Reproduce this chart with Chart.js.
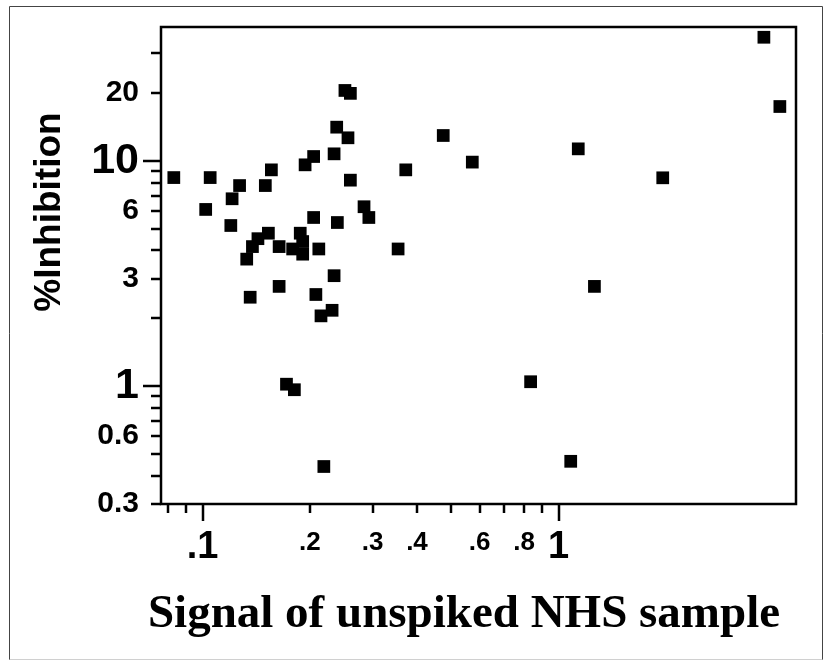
<!DOCTYPE html>
<html>
<head>
<meta charset="utf-8">
<script src="https://cdn.jsdelivr.net/npm/chart.js@4.4.1/dist/chart.umd.min.js"></script>
<style>
  html, body { margin: 0; padding: 0; background: #fff; }
  #wrap { width: 824px; height: 662px; }
</style>
</head>
<body>
<div id="wrap"><canvas id="canvas" width="824" height="662"></canvas></div>
<script>
// signal of unspiked NHS sample (x) vs %inhibition (y)
const signal = [
  0.083, 0.105, 0.127, 0.121, 0.102, 0.120, 0.156, 0.150, 0.194, 0.205,
  0.234, 0.238, 0.256, 0.251, 0.260, 0.260, 0.284, 0.293, 0.205, 0.239,
  0.372, 0.474, 0.354, 0.133, 0.143, 0.138, 0.153, 0.164, 0.179, 0.188,
  0.191, 0.191, 0.212, 0.234, 0.164, 0.136, 0.208, 0.231, 0.215, 0.172,
  0.181, 0.219, 3.77, 4.18, 0.572, 1.135, 1.96, 1.26, 0.834, 1.081
];
const inhibition = [
  8.42, 8.42, 7.76, 6.78, 6.08, 5.16, 9.11, 7.76, 9.59, 10.44,
  10.73, 14.09, 12.64, 20.5, 19.9, 8.20, 6.25, 5.60, 5.60, 5.32,
  9.11, 12.94, 4.06, 3.66, 4.51, 4.16, 4.77, 4.16, 4.06, 4.77,
  4.38, 3.85, 4.06, 3.09, 2.77, 2.48, 2.55, 2.17, 2.05, 1.02,
  0.964, 0.44, 35.3, 17.4, 9.86, 11.29, 8.40, 2.77, 1.046, 0.464
];

// axis ticks
const xTickValues = [0.1, 0.2, 0.3, 0.4, 0.6, 0.8, 1];
const xTickLabels = ['.1', '.2', '.3', '.4', '.6', '.8', '1'];
const xMajorTicks = [0.1, 1];
const xMinorTicks = [0.08, 0.09, 0.2, 0.3, 0.4, 0.5, 0.6, 0.7, 0.8, 0.9];

const yTickValues = [0.3, 0.6, 1, 3, 6, 10, 20];
const yTickLabels = ['0.3', '0.6', '1', '3', '6', '10', '20'];
const yMajorTicks = [1, 10];
const yMinorTicks = [0.3, 0.4, 0.5, 0.6, 0.7, 0.8, 0.9, 2, 3, 4, 5, 6, 7, 8, 9, 20, 30];

const xTitle = 'Signal of unspiked NHS sample';
const yTitle = '%Inhibition';

const SANS = '"Liberation Sans", Arial, sans-serif';
const SERIF = '"Liberation Serif", "Times New Roman", serif';

const points = signal.map((x, i) => ({ x: x, y: inhibition[i] }));

// fixed axis boxes so the plot frame lands where the original has it
function fixBox(s, size) {
  if (s.isHorizontal()) s.height = size; else s.width = size;
  s.paddingTop = 0; s.paddingBottom = 0;
  s.paddingLeft = 0; s.paddingRight = 0;
}

// frame, tick marks, titles and page border
const decor = {
  id: 'decor',
  afterDraw(chart) {
    const ctx = chart.ctx;
    const a = chart.chartArea;
    const xs = chart.scales.x, ys = chart.scales.y;
    ctx.save();

    // thin page border
    ctx.lineWidth = 1;
    ctx.strokeStyle = '#444';
    ctx.beginPath();
    ctx.moveTo(9.5, 660); ctx.lineTo(9.5, 6.5); ctx.lineTo(822.5, 6.5); ctx.lineTo(822.5, 660);
    ctx.stroke();
    ctx.strokeStyle = '#d0d0d0';
    ctx.beginPath();
    ctx.moveTo(9.5, 659.5); ctx.lineTo(822.5, 659.5);
    ctx.stroke();

    // plot frame
    ctx.strokeStyle = '#000';
    ctx.lineWidth = 2.5;
    ctx.strokeRect(a.left, a.top, a.right - a.left, a.bottom - a.top);

    // tick marks
    ctx.beginPath();
    xMinorTicks.forEach(v => {
      const px = Math.round(xs.getPixelForValue(v));
      ctx.moveTo(px, a.bottom); ctx.lineTo(px, a.bottom + 9);
    });
    xMajorTicks.forEach(v => {
      const px = Math.round(xs.getPixelForValue(v));
      ctx.moveTo(px, a.bottom); ctx.lineTo(px, a.bottom + 17);
    });
    yMinorTicks.forEach(v => {
      const py = Math.round(ys.getPixelForValue(v));
      ctx.moveTo(a.left, py); ctx.lineTo(a.left - 10, py);
    });
    yMajorTicks.forEach(v => {
      const py = Math.round(ys.getPixelForValue(v));
      ctx.moveTo(a.left, py); ctx.lineTo(a.left - 18, py);
    });
    ctx.stroke();

    // axis titles
    ctx.fillStyle = '#000';
    ctx.font = 'bold 47px ' + SERIF;
    ctx.textAlign = 'center';
    ctx.textBaseline = 'alphabetic';
    ctx.fillText(xTitle, 464, 627);

    ctx.translate(60, 212);
    ctx.rotate(-Math.PI / 2);
    ctx.font = 'bold 37px ' + SANS;
    ctx.fillText(yTitle, 0, 0);
    ctx.restore();
  }
};

new Chart(document.getElementById('canvas').getContext('2d'), {
  type: 'scatter',
  data: {
    datasets: [{
      data: points,
      pointStyle: 'rect',
      pointRadius: 9,
      pointHoverRadius: 9,
      borderWidth: 0,
      backgroundColor: '#000',
      borderColor: '#000'
    }]
  },
  options: {
    responsive: false,
    devicePixelRatio: 1,
    animation: false,
    events: [],
    layout: { padding: { top: 27, right: 28, left: 0, bottom: 0 } },
    plugins: {
      legend: { display: false },
      tooltip: { enabled: false }
    },
    scales: {
      x: {
        type: 'logarithmic',
        min: 0.0764,
        max: 4.64,
        bounds: 'data',
        grid: { display: false, drawTicks: false },
        border: { display: false },
        afterFit: s => fixBox(s, 158),
        afterBuildTicks: s => { s.ticks = xTickValues.map(v => ({ value: v })); },
        ticks: {
          autoSkip: false,
          maxRotation: 0,
          minRotation: 0,
          padding: 23,
          color: '#000',
          callback: v => xTickLabels[xTickValues.indexOf(v)],
          font: ctx => xMajorTicks.includes(ctx.tick && ctx.tick.value)
            ? { family: SANS, weight: 'bold', size: 38, lineHeight: 1.1 }
            : { family: SANS, weight: 'bold', size: 26, lineHeight: 1.2 }
        }
      },
      y: {
        type: 'logarithmic',
        min: 0.3,
        max: 39.2,
        bounds: 'data',
        grid: { display: false, drawTicks: false },
        border: { display: false },
        afterFit: s => fixBox(s, 161),
        afterBuildTicks: s => { s.ticks = yTickValues.map(v => ({ value: v })); },
        ticks: {
          autoSkip: false,
          padding: 22,
          color: '#000',
          callback: v => yTickLabels[yTickValues.indexOf(v)],
          font: ctx => yMajorTicks.includes(ctx.tick && ctx.tick.value)
            ? { family: SANS, weight: 'bold', size: 43 }
            : { family: SANS, weight: 'bold', size: 30 }
        }
      }
    }
  },
  plugins: [decor]
});
</script>
</body>
</html>
